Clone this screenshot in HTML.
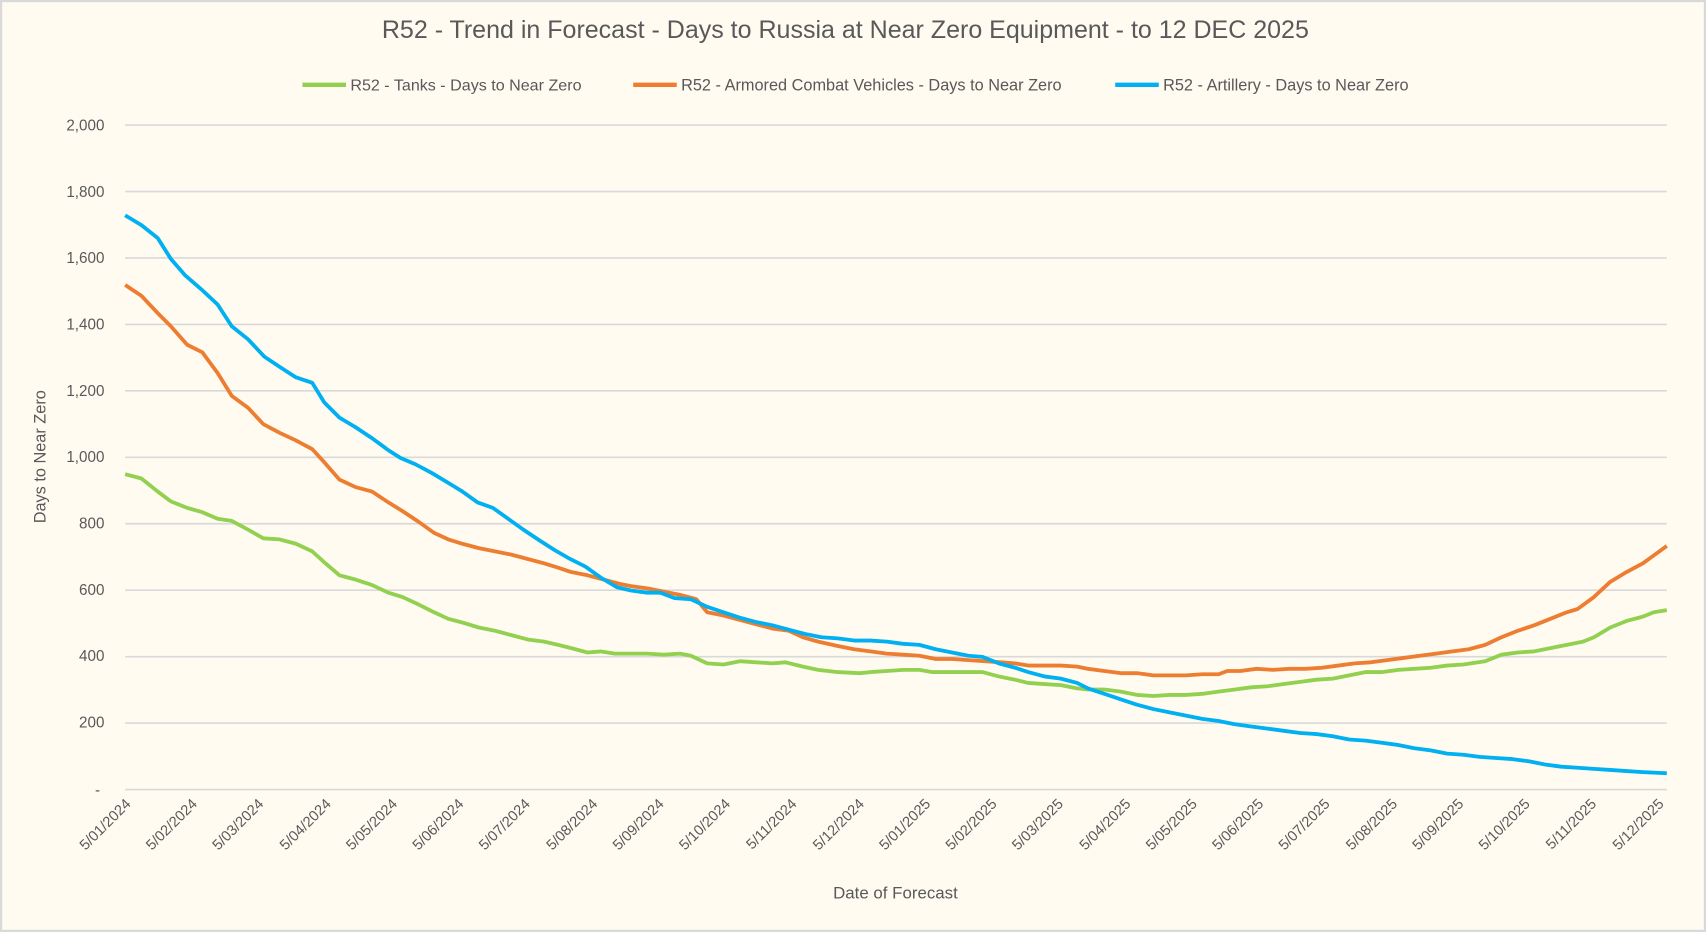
<!DOCTYPE html>
<html><head><meta charset="utf-8"><style>
html,body{margin:0;padding:0;background:#fffbf1;}
svg{display:block;}
text{font-family:"Liberation Sans",sans-serif;fill:#595959;}
</style></head><body>
<svg width="1706" height="932" viewBox="0 0 1568 857" preserveAspectRatio="none" xmlns="http://www.w3.org/2000/svg">
<rect x="1" y="1" width="1566" height="855" fill="#fffbf1" stroke="#d9d9d9" stroke-width="2"/>
<text x="777" y="35" font-size="23" text-anchor="middle">R52 - Trend in Forecast - Days to Russia at Near Zero Equipment - to 12 DEC 2025</text>
<line x1="278" y1="78" x2="318" y2="78" stroke="#92d050" stroke-width="4"/>
<text x="322" y="83" font-size="14.8">R52 - Tanks - Days to Near Zero</text>
<line x1="582" y1="78" x2="622" y2="78" stroke="#ed7d31" stroke-width="4"/>
<text x="626" y="83" font-size="15">R52 - Armored Combat Vehicles - Days to Near Zero</text>
<line x1="1025" y1="78" x2="1065" y2="78" stroke="#00b0f0" stroke-width="4"/>
<text x="1069" y="83" font-size="15">R52 - Artillery - Days to Near Zero</text>
<g stroke="#d9d9d9" stroke-width="1.5">
<line x1="115" x2="1532" y1="115" y2="115"/><line x1="115" x2="1532" y1="176.1" y2="176.1"/>
<line x1="115" x2="1532" y1="237.2" y2="237.2"/><line x1="115" x2="1532" y1="298.3" y2="298.3"/>
<line x1="115" x2="1532" y1="359.4" y2="359.4"/><line x1="115" x2="1532" y1="420.5" y2="420.5"/>
<line x1="115" x2="1532" y1="481.6" y2="481.6"/><line x1="115" x2="1532" y1="542.7" y2="542.7"/>
<line x1="115" x2="1532" y1="603.8" y2="603.8"/><line x1="115" x2="1532" y1="664.9" y2="664.9"/>
<line x1="115" x2="1532" y1="726" y2="726"/>
</g>
<g font-size="14" text-anchor="end">
<text x="96" y="120">2,000</text><text x="96" y="181">1,800</text><text x="96" y="242">1,600</text>
<text x="96" y="303">1,400</text><text x="96" y="364">1,200</text><text x="96" y="425">1,000</text>
<text x="96" y="486">800</text><text x="96" y="547">600</text><text x="96" y="608">400</text>
<text x="96" y="669">200</text><text x="92" y="731">-</text>
</g>
<text transform="translate(42,420) rotate(-90)" font-size="15" text-anchor="middle">Days to Near Zero</text>
<text x="823" y="826" font-size="15.5" text-anchor="middle">Date of Forecast</text>
<polyline fill="none" stroke="#92d050" stroke-width="3.5" stroke-linejoin="round" points="115,436 130,440 145,452 157,461 172,467 186,471 200,477 213,479 228,487 242,495 257,496 272,500 287,507 298,517 312,529 327,533 342,538 357,545 370,549 385,556 399,563 412,569 427,573 440,577 455,580 470,584 485,588 500,590 513,593 525,596 540,600 552,599 565,601 580,601 595,601 610,602 625,601 635,603 650,610 665,611 680,608 695,609 710,610 722,609 738,613 752,616 770,618 790,619 800,618 815,617 830,616 845,616 857,618 875,618 890,618 903,618 918,622 933,625 945,628 960,629 975,630 990,633 1000,634 1015,634 1030,636 1045,639 1060,640 1075,639 1090,639 1105,638 1120,636 1135,634 1150,632 1165,631 1180,629 1195,627 1210,625 1225,624 1240,621 1255,618 1270,618 1285,616 1300,615 1315,614 1330,612 1345,611 1365,608 1380,602 1395,600 1410,599 1425,596 1440,593 1455,590 1465,586 1480,577 1495,571 1510,567 1520,563 1532,561"/>
<polyline fill="none" stroke="#ed7d31" stroke-width="3.5" stroke-linejoin="round" points="115,262 130,272 145,288 157,300 172,317 186,324 200,343 213,364 228,375 242,390 257,398 272,405 287,413 298,425 312,441 327,448 342,452 357,462 370,470 385,480 399,490 412,496 425,500 440,504 455,507 470,510 485,514 500,518 513,522 525,526 540,529 555,533 570,537 580,539 595,541 610,544 625,547 640,551 650,563 665,566 680,570 695,574 710,578 725,580 738,586 752,590 770,594 785,597 800,599 815,601 830,602 845,603 860,606 875,606 890,607 905,608 920,609 933,610 945,612 960,612 975,612 990,613 1000,615 1015,617 1030,619 1045,619 1060,621 1075,621 1090,621 1105,620 1120,620 1128,617 1140,617 1155,615 1170,616 1185,615 1200,615 1215,614 1230,612 1245,610 1260,609 1275,607 1290,605 1305,603 1320,601 1335,599 1350,597 1365,593 1380,586 1395,580 1410,575 1425,569 1440,563 1450,560 1465,549 1480,535 1495,526 1510,518 1532,502"/>
<polyline fill="none" stroke="#00b0f0" stroke-width="3.5" stroke-linejoin="round" points="115,198 130,207 145,219 157,238 170,253 185,266 200,280 213,300 228,312 243,328 258,338 272,347 287,352 298,370 312,384 327,393 342,403 357,414 368,421 382,427 397,435 412,444 425,452 439,462 453,467 467,477 481,487 496,497 510,506 524,514 538,521 552,531 567,540 580,543 595,545 607,545 620,550 635,551 650,558 665,563 680,568 695,572 710,575 725,579 740,583 755,586 770,587 785,589 800,589 815,590 830,592 845,593 860,597 875,600 890,603 903,604 918,610 933,614 945,618 960,622 975,624 990,628 1000,633 1015,638 1030,643 1045,648 1060,652 1075,655 1090,658 1105,661 1120,663 1135,666 1150,668 1165,670 1180,672 1195,674 1210,675 1225,677 1240,680 1255,681 1270,683 1285,685 1300,688 1315,690 1330,693 1345,694 1360,696 1375,697 1390,698 1405,700 1420,703 1435,705 1450,706 1465,707 1480,708 1495,709 1510,710 1532,711"/>
<g font-size="13.5" text-anchor="end">
<text transform="translate(121,740) rotate(-45)">5/01/2024</text>
<text transform="translate(182,740) rotate(-45)">5/02/2024</text>
<text transform="translate(243,740) rotate(-45)">5/03/2024</text>
<text transform="translate(305,740) rotate(-45)">5/04/2024</text>
<text transform="translate(366,740) rotate(-45)">5/05/2024</text>
<text transform="translate(427,740) rotate(-45)">5/06/2024</text>
<text transform="translate(488,740) rotate(-45)">5/07/2024</text>
<text transform="translate(550,740) rotate(-45)">5/08/2024</text>
<text transform="translate(611,740) rotate(-45)">5/09/2024</text>
<text transform="translate(672,740) rotate(-45)">5/10/2024</text>
<text transform="translate(733,740) rotate(-45)">5/11/2024</text>
<text transform="translate(795,740) rotate(-45)">5/12/2024</text>
<text transform="translate(856,740) rotate(-45)">5/01/2025</text>
<text transform="translate(917,740) rotate(-45)">5/02/2025</text>
<text transform="translate(978,740) rotate(-45)">5/03/2025</text>
<text transform="translate(1040,740) rotate(-45)">5/04/2025</text>
<text transform="translate(1101,740) rotate(-45)">5/05/2025</text>
<text transform="translate(1162,740) rotate(-45)">5/06/2025</text>
<text transform="translate(1223,740) rotate(-45)">5/07/2025</text>
<text transform="translate(1285,740) rotate(-45)">5/08/2025</text>
<text transform="translate(1346,740) rotate(-45)">5/09/2025</text>
<text transform="translate(1407,740) rotate(-45)">5/10/2025</text>
<text transform="translate(1468,740) rotate(-45)">5/11/2025</text>
<text transform="translate(1530,740) rotate(-45)">5/12/2025</text>
</g>
</svg>
</body></html>
